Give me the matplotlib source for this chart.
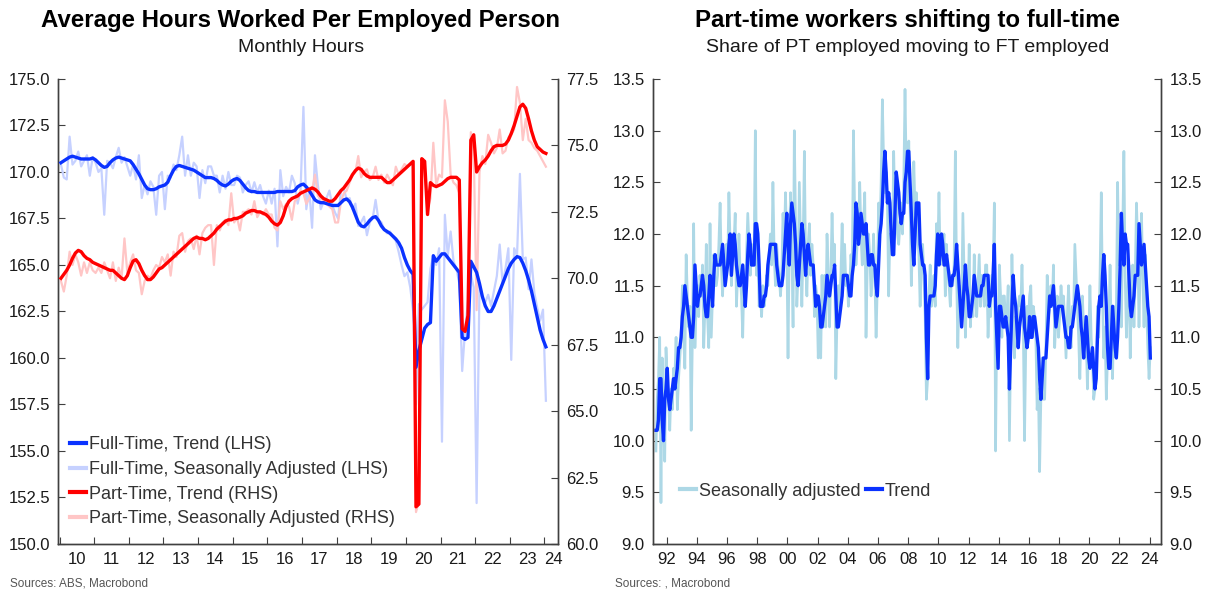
import numpy as np
import matplotlib.pyplot as plt
from matplotlib.lines import Line2D

plt.rcParams['font.family'] = ['Liberation Sans', 'DejaVu Sans']

# ---- left chart: monthly hours, Jan 2010 .. Jan 2024 ----
hours_start = (2010, 1)

ft_trend = [
    170.5, 170.6, 170.7, 170.8, 170.85, 170.8, 170.75, 170.7, 170.7, 170.7, 170.7, 170.75,
    170.65, 170.5, 170.35, 170.25, 170.3, 170.5, 170.65, 170.75, 170.8, 170.75, 170.7, 170.65,
    170.6, 170.4, 170.15, 169.9, 169.6, 169.3, 169.1, 169.05, 169.05, 169.1, 169.2, 169.25,
    169.3, 169.45, 169.8, 170.1, 170.3, 170.35, 170.3, 170.25, 170.2, 170.15, 170.1, 170.0,
    169.9, 169.8, 169.7, 169.7, 169.7, 169.65, 169.55, 169.4, 169.3, 169.25, 169.35, 169.5,
    169.6, 169.65, 169.55, 169.35, 169.15, 169.0, 168.95, 168.95, 168.9, 168.9, 168.9, 168.9,
    168.9, 168.9, 168.9, 168.95, 168.95, 168.95, 168.95, 168.95, 168.95, 169.0, 169.2, 169.3,
    169.35, 169.2, 169.0, 168.75, 168.5, 168.4, 168.35, 168.35, 168.3, 168.25, 168.2, 168.2,
    168.2, 168.35, 168.5, 168.55, 168.4, 168.1, 167.7, 167.3, 167.1, 167.05, 167.2, 167.4,
    167.55, 167.6, 167.4, 167.1, 166.9, 166.8, 166.7, 166.55, 166.4, 166.2, 165.9, 165.4,
    165.0, 164.7, 164.5, 159.5, 160.4, 161.0, 161.6, 161.8, 161.9, 165.5, 165.2, 165.4,
    165.6, 165.6, 165.4, 165.2, 165.0, 164.8, 164.6, 161.1, 161.0, 161.1, 165.2, 164.9,
    164.6, 164.0, 163.3, 162.8, 162.5, 162.5, 162.8, 163.2, 163.6, 164.0, 164.4, 164.8,
    165.1, 165.3, 165.45, 165.4, 165.1, 164.7, 164.2, 163.6, 162.9, 162.2, 161.5, 161.0,
    160.6,
]

ft_sa = [
    170.4, 169.7, 169.6, 171.9, 170.4, 170.6, 171.1, 170.3, 170.6, 170.9, 169.8, 170.8,
    170.5, 170.0, 170.2, 167.7, 170.6, 170.5, 170.2, 170.8, 171.3, 170.5, 170.8, 170.3,
    169.8, 170.4, 169.6, 170.9, 168.6, 169.3, 168.8, 169.5, 169.2, 167.7, 169.8, 170.0,
    168.0, 169.8, 169.7, 170.4, 170.1, 170.9, 171.9, 169.8, 170.9, 169.8, 170.5, 170.3,
    168.6, 170.1, 169.4, 170.3, 170.3, 169.8, 169.8, 168.9, 169.8, 169.1, 170.0, 169.3,
    169.3, 169.8, 169.7, 168.9, 169.3, 169.5, 168.9, 169.45, 168.9, 169.3, 168.7, 168.3,
    169.0, 168.3, 169.1, 166.0, 170.1, 168.7, 169.2, 168.9, 169.8, 169.4, 168.3, 169.0,
    173.5, 168.0, 169.1, 167.0, 170.9, 169.3, 168.0, 168.4, 168.6, 169.0, 168.2, 167.8,
    167.5, 169.0, 169.1, 168.5, 168.6, 168.0, 168.3, 167.1, 167.3, 167.6, 166.6, 167.3,
    167.5, 168.5, 167.4, 167.3, 166.9, 166.7, 166.8, 166.5, 166.3, 165.7, 165.0, 164.4,
    164.6, 163.8, 162.5, 157.5, 162.9, 162.6, 162.8, 163.0, 164.8, 165.5, 165.0, 165.9,
    155.5, 167.7, 165.5, 166.8, 165.2, 164.8, 164.0, 159.3, 161.5, 163.0, 164.5, 163.8,
    152.2, 164.0, 163.2, 163.0, 163.4, 162.8, 163.6, 164.4, 166.1, 164.0, 164.8, 165.9,
    159.9, 165.9, 165.5, 169.9, 165.3, 165.4, 163.7, 165.3, 163.5, 162.7, 162.0, 162.6,
    157.7,
]

pt_trend = [
    70.0, 70.15, 70.3, 70.5, 70.75, 70.95, 71.05, 71.0, 70.85, 70.75, 70.7, 70.6,
    70.55, 70.5, 70.45, 70.4, 70.35, 70.3, 70.3, 70.2, 70.1, 70.0, 69.95, 70.1,
    70.4, 70.65, 70.7, 70.55, 70.3, 70.1, 69.95, 69.95, 70.05, 70.2, 70.35, 70.4,
    70.5, 70.6, 70.7, 70.8, 70.9, 71.0, 71.1, 71.2, 71.3, 71.4, 71.5, 71.55,
    71.5, 71.5, 71.45, 71.5, 71.6, 71.7, 71.85, 71.95, 72.05, 72.15, 72.2, 72.2,
    72.25, 72.25, 72.3, 72.35, 72.45, 72.5, 72.55, 72.55, 72.5, 72.5, 72.45, 72.4,
    72.3, 72.15, 72.05, 72.0, 72.1, 72.35, 72.7, 72.9, 73.0, 73.05, 73.1, 73.2,
    73.25, 73.3, 73.35, 73.4, 73.35, 73.25, 73.1, 73.0, 72.95, 72.9, 72.9, 73.0,
    73.15, 73.3, 73.4, 73.55, 73.7, 73.9, 74.05, 74.15, 74.1, 73.95, 73.85, 73.8,
    73.8, 73.8, 73.8, 73.8, 73.7, 73.6, 73.6, 73.7, 73.8, 73.9, 74.0, 74.1,
    74.2, 74.3, 74.4, 61.4, 61.5, 74.5, 74.4, 72.4, 73.6, 73.5, 73.45, 73.5,
    73.55, 73.65, 73.75, 73.8, 73.8, 73.8, 73.7, 68.1, 68.0, 68.6, 75.2, 75.4,
    74.0, 74.2, 74.35, 74.45, 74.6, 74.8, 74.95, 75.0, 75.0, 75.0, 75.05, 75.2,
    75.45, 75.75, 76.1, 76.45, 76.55, 76.4, 76.0, 75.55, 75.2, 74.95, 74.85, 74.75,
    74.7,
]

pt_sa = [
    69.9, 69.5, 70.1, 71.0, 70.5, 70.9, 70.6, 70.1, 70.6, 70.2, 70.6, 70.3,
    70.2, 70.4, 70.2, 70.6, 70.3, 70.0, 70.6, 69.9, 70.4, 70.0, 71.5, 70.2,
    70.6, 70.9, 70.3, 70.2, 69.4, 69.9, 70.1, 70.0, 70.3, 70.5, 70.4, 70.8,
    70.6, 70.9, 70.1, 71.0, 70.8, 71.6, 71.7, 71.0, 71.4, 71.5, 71.1, 71.6,
    70.9, 71.7, 71.9, 72.0, 72.0, 70.5, 72.0, 71.8, 72.1, 72.2, 72.0, 73.2,
    72.1, 72.3, 71.8, 72.5, 72.5, 72.6, 72.4, 72.9, 72.3, 72.5, 72.4, 72.6,
    72.4, 72.4, 71.9, 71.8, 72.9, 72.6, 72.8, 72.7, 72.2, 72.9, 73.0, 73.3,
    73.2, 72.8, 73.0, 73.3, 73.9, 73.1, 73.0, 72.9, 72.8, 72.7, 72.6, 72.1,
    72.1, 72.9, 73.2, 73.3, 73.6, 73.9, 74.0, 74.6, 73.8, 74.0, 74.1, 73.7,
    73.8, 74.2, 73.7, 73.9, 73.6, 73.9, 73.7, 73.5, 74.2, 73.9, 74.1, 74.3,
    74.2, 74.3, 74.4, 61.2, 61.6, 74.4, 74.0, 72.6, 73.0, 75.1, 73.5, 73.9,
    73.8, 76.7, 75.9, 73.9, 73.6, 73.5, 73.2, 68.0, 68.2, 68.5, 75.5, 74.8,
    68.8, 74.0, 74.6, 74.3, 75.4, 75.1, 74.7, 74.9, 75.6, 74.7, 74.8, 75.3,
    75.4, 75.6, 77.2, 76.6, 75.2, 76.0, 75.2, 75.1, 74.9, 74.8, 74.6, 74.4,
    74.2,
]

# ---- right chart: share of PT moving to FT, Apr 1991 .. Jan 2024 ----
shift_start = (1991, 4)

shift_sa = [
    9.9, 10.4, 10.6, 11.0, 9.4, 10.8, 10.2, 9.8, 10.9,
    10.6, 10.4, 10.1, 10.5, 10.3, 10.7, 10.6, 11.0, 10.3, 10.6, 10.8, 11.0,
    11.5, 11.0, 10.7, 11.8, 11.4, 11.1, 11.3, 10.1, 11.0, 12.1, 10.9, 11.3,
    11.5, 11.2, 11.6, 11.4, 11.7, 10.9, 11.3, 11.9, 11.2, 10.9, 12.1, 11.0,
    11.4, 11.8, 11.5, 11.5, 11.6, 11.9, 12.3, 11.7, 11.4, 11.8, 11.6, 11.9,
    11.7, 12.4, 11.9, 11.5, 11.8, 11.9, 12.2, 11.3, 11.6, 12.0, 11.6, 11.4,
    11.0, 11.6, 11.4, 11.8, 12.2, 11.9, 11.6, 11.9, 11.7, 11.8, 13.0, 11.6,
    11.9, 11.3, 11.4, 11.2, 11.5, 11.3, 11.4, 11.6, 11.5, 11.8, 12.0, 11.7,
    12.5, 11.8, 11.5, 11.9, 11.7, 11.6, 11.4, 11.6, 12.2, 11.9, 12.4, 11.9,
    10.8, 11.9, 12.4, 11.9, 11.1, 13.0, 12.1, 11.3, 11.6, 12.5, 11.9, 11.3,
    11.9, 12.8, 11.7, 11.4, 11.9, 12.1, 11.6, 11.9, 11.7, 11.2, 11.5, 11.4,
    10.8, 11.3, 10.8, 11.6, 11.1, 11.6, 11.1, 12.0, 11.6, 11.1, 11.6, 12.2,
    11.7, 11.9, 10.6, 11.2, 11.5, 11.3, 11.6, 12.1, 11.6, 11.9, 11.5, 11.6,
    11.3, 11.5, 11.8, 11.6, 13.0, 12.2, 11.7, 11.9, 12.0, 12.5, 12.0, 11.7,
    12.1, 12.4, 11.0, 11.7, 12.0, 11.8, 11.4, 11.6, 12.0, 11.6, 11.0, 11.5,
    12.3, 12.0, 12.5, 13.3, 12.7, 12.4, 12.6, 12.3, 11.4, 12.0, 11.8, 11.9,
    12.8, 12.2, 12.4, 12.0, 11.9, 12.1, 12.3, 12.0, 12.5, 13.4, 12.6, 12.3,
    12.9, 12.3, 11.5, 11.9, 12.7, 12.2, 12.4, 12.0, 11.8, 11.3, 11.7, 11.9,
    11.6, 11.2, 10.4, 10.6, 11.4, 11.7, 11.3, 11.4, 11.6, 11.3, 12.1, 11.8,
    12.4, 11.7, 12.0, 11.8, 12.0, 11.4, 11.9, 11.6, 11.5, 11.3, 11.6, 11.5,
    11.7, 12.8, 11.6, 10.9, 11.5, 11.2, 11.3, 12.2, 11.6, 11.0, 11.5, 11.3,
    11.9, 11.1, 11.4, 11.2, 11.8, 11.4, 11.2, 11.5, 11.8, 11.3, 11.6, 11.5,
    11.3, 11.7, 11.7, 11.0, 11.4, 11.2, 11.6, 11.6, 12.3, 9.9, 11.2, 10.9,
    11.7, 11.4, 11.0, 11.4, 11.4, 11.1, 11.2, 11.5, 10.0, 10.9, 11.8, 11.2,
    10.8, 11.2, 11.0, 11.3, 11.4, 11.3, 11.7, 11.1, 10.0, 10.9, 11.3, 11.1,
    11.4, 11.5, 11.0, 11.3, 11.2, 11.0, 10.3, 10.5, 9.7, 10.4, 10.8, 10.4,
    10.4, 10.9, 11.6, 11.2, 11.3, 11.5, 11.3, 11.7, 10.9, 11.2, 11.4, 11.0,
    11.2, 11.5, 11.3, 11.4, 11.1, 10.8, 11.2, 11.5, 11.1, 10.9, 11.3, 11.2,
    11.9, 11.6, 11.3, 11.0, 10.6, 11.1, 11.4, 11.1, 10.8, 11.0, 10.5, 11.0,
    11.5, 11.0, 10.8, 10.4, 10.5, 10.7, 11.3, 11.0, 11.6, 12.4, 11.4, 10.8,
    11.1, 10.4, 10.8, 11.1, 11.7, 11.0, 10.6, 11.3, 11.0, 11.3, 12.5, 11.7,
    11.9, 11.1, 12.0, 12.8, 11.6, 11.0, 11.4, 11.7, 10.8, 11.4, 11.7, 11.1,
    11.6, 12.3, 11.9, 11.1, 11.7, 12.2, 11.6, 11.1, 11.8, 11.3, 10.9, 10.6,
    10.9,
]

shift_trend = [
    10.1, 10.1, 10.2, 10.6, 10.6, 10.2, 10.0, 10.4, 10.5,
    10.7, 10.4, 10.3, 10.4, 10.5, 10.6, 10.5, 10.6, 10.7, 10.9, 10.9, 11.0,
    11.2, 11.3, 11.5, 11.4, 11.3, 11.2, 11.1, 11.0, 11.0, 11.2, 11.7, 11.5,
    11.3, 11.4, 11.4, 11.5, 11.6, 11.5, 11.3, 11.2, 11.2, 11.4, 11.6, 11.5,
    11.3, 11.6, 11.8, 11.7, 11.7, 11.7, 11.7, 11.8, 11.9, 11.7, 11.5, 11.6,
    11.7, 11.9, 12.0, 11.6, 11.8, 12.0, 11.9, 11.7, 11.6, 11.5, 11.5, 11.6,
    11.7, 11.5, 11.3, 11.5, 11.8, 12.0, 11.9, 11.7, 11.7, 11.7, 12.1, 12.1,
    12.0, 11.7, 11.3, 11.3, 11.3, 11.4, 11.4, 11.5, 11.7, 11.8, 11.9, 11.9,
    11.9, 11.9, 11.9, 11.7, 11.6, 11.5, 11.5, 11.5, 11.6, 11.8, 12.0, 12.2,
    11.9, 11.7, 12.1, 12.3, 12.2, 12.1, 11.9, 11.6, 11.5, 11.7, 11.9, 12.1,
    12.0, 11.8, 11.6, 11.8, 11.9, 11.8, 11.7, 11.7, 11.7, 11.5, 11.3, 11.4,
    11.4, 11.3, 11.1, 11.1, 11.2, 11.3, 11.4, 11.6, 11.5, 11.4, 11.5, 11.6,
    11.6, 11.7, 11.4, 11.1, 11.1, 11.2, 11.3, 11.4, 11.6, 11.6, 11.6, 11.6,
    11.5, 11.4, 11.4, 11.6, 11.7, 11.9, 12.3, 12.2, 11.9, 12.0, 12.2, 12.1,
    12.0, 12.0, 12.1, 11.9, 11.7, 11.7, 11.8, 11.8, 11.7, 11.7, 11.5, 11.4,
    11.7, 12.0, 12.1, 12.3, 12.6, 12.8, 12.6, 12.3, 12.4, 12.3, 12.0, 11.8,
    11.8, 12.2, 12.6, 12.5, 12.4, 12.2, 12.1, 12.2, 12.2, 12.5, 12.6, 12.8,
    12.8, 12.5, 12.2, 11.9, 11.7, 12.0, 12.3, 12.3, 12.3, 11.9, 11.8, 11.7,
    11.7, 11.6, 11.0, 10.6, 11.3, 11.4, 11.4, 11.4, 11.4, 11.5, 11.8, 12.0,
    11.7, 11.8, 12.0, 11.9, 11.7, 11.7, 11.8, 11.7, 11.6, 11.5, 11.5, 11.6,
    11.6, 11.7, 11.9, 11.7, 11.5, 11.3, 11.1, 11.3, 11.5, 11.7, 11.5, 11.4,
    11.2, 11.2, 11.3, 11.4, 11.6, 11.5, 11.4, 11.4, 11.4, 11.4, 11.5, 11.5,
    11.6, 11.6, 11.6, 11.6, 11.3, 11.4, 11.4, 11.6, 11.9, 11.3, 11.0, 10.7,
    11.3, 11.3, 11.2, 11.1, 11.1, 11.2, 11.1, 11.0, 10.5, 10.9, 11.3, 11.6,
    11.4, 11.3, 11.1, 10.9, 11.1, 11.2, 11.3, 11.4, 11.1, 11.0, 10.9, 11.0,
    11.2, 11.0, 11.0, 11.2, 11.2, 11.1, 11.0, 10.9, 10.6, 10.4, 10.6, 10.8,
    10.8, 10.8, 11.0, 11.2, 11.4, 11.3, 11.4, 11.5, 11.3, 11.1, 11.2, 11.3,
    11.3, 11.3, 11.3, 11.2, 11.1, 11.0, 11.0, 10.9, 10.9, 11.1, 11.1, 11.2,
    11.3, 11.4, 11.5, 11.4, 11.3, 11.1, 11.0, 10.8, 11.0, 11.2, 11.0, 10.8,
    10.7, 10.8, 10.9, 10.7, 10.5, 10.6, 11.0, 11.3, 11.4, 11.3, 11.6, 11.8,
    11.6, 11.3, 10.9, 10.7, 10.7, 11.0, 11.3, 11.1, 10.9, 10.8, 11.0, 11.3,
    11.7, 12.2, 11.9, 11.7, 12.0, 11.9, 11.9, 11.6, 11.3, 11.2, 11.3, 11.4,
    11.6, 11.6, 11.6, 12.1, 11.9, 11.7, 11.8, 11.9, 11.7, 11.5, 11.3, 11.2,
    10.8,
]

hours_labels = ['10', '11', '12', '13', '14', '15', '16', '17', '18', '19',
                '20', '21', '22', '23', '24']
shift_years = list(range(1992, 2025, 2))

BLUE = '#0a32ff'
RED = '#ff0000'
FT_SA_COL = '#c6d1ff'
PT_SA_COL = '#ffc6c6'
SA_COL = '#add8e6'
TXT = '#1a1a1a'
LEG_TXT = '#333333'
SPINE = '#404040'


def month_x(start, n):
    # decimal year at the middle of each month
    y, m = start
    return y + (m - 1 + np.arange(n) + 0.5) / 12.0


fig = plt.figure(figsize=(12.08, 5.90), dpi=100)

# ---------------- left panel ----------------
xl = month_x(hours_start, len(ft_trend))

ax = fig.add_axes([0.0484, 0.0780, 0.4132, 0.7881])
ax.set_xlim(2009.97, 2024.38)
ax.set_ylim(150, 175)
ax.plot(xl, ft_sa, color=FT_SA_COL, lw=1.6, solid_joinstyle='round')

axr = ax.twinx()
axr.set_ylim(60, 77.5)
axr.plot(xl, pt_sa, color=PT_SA_COL, lw=1.6, solid_joinstyle='round')

axt = ax.twinx()
axt.set_ylim(150, 175)
axt.plot(xl, ft_trend, color=BLUE, lw=2.4, solid_joinstyle='round')
axt.axis('off')

axrt = ax.twinx()
axrt.set_ylim(60, 77.5)
axrt.plot(xl, pt_trend, color=RED, lw=2.4, solid_joinstyle='round')
axrt.axis('off')

ax.set_yticks(np.arange(150, 175.1, 2.5))
ax.set_yticklabels(['%.1f' % v for v in np.arange(150, 175.1, 2.5)])
axr.set_yticks(np.arange(60, 77.6, 2.5))
axr.set_yticklabels(['%.1f' % v for v in np.arange(60, 77.6, 2.5)])

ax.set_xticks(np.arange(2010, 2025))
ax.set_xticklabels([])
ax.set_xticks(list(np.arange(2010.5, 2024, 1.0)) + [2024.25], minor=True)
ax.set_xticklabels(hours_labels, minor=True)

for a in (ax, axr):
    a.spines['top'].set_visible(False)
    for s in a.spines.values():
        s.set_color(SPINE)
        s.set_linewidth(1.0)
ax.tick_params(axis='y', direction='in', length=5, color=SPINE, labelsize=12,
               labelcolor=TXT, pad=6)
axr.tick_params(axis='y', direction='in', length=5, color=SPINE, labelsize=12,
                labelcolor=TXT, pad=6)
ax.tick_params(axis='x', which='major', direction='in', length=5, color=SPINE)
ax.tick_params(axis='x', which='minor', length=0, labelsize=12, labelcolor=TXT, pad=6)

handles = [
    Line2D([], [], color=BLUE, lw=3),
    Line2D([], [], color=FT_SA_COL, lw=3),
    Line2D([], [], color=RED, lw=3),
    Line2D([], [], color=PT_SA_COL, lw=3),
]
labels = ['Full-Time, Trend (LHS)', 'Full-Time, Seasonally Adjusted (LHS)',
          'Part-Time, Trend (RHS)', 'Part-Time, Seasonally Adjusted (RHS)']
leg = axrt.legend(handles, labels, loc='lower left', bbox_to_anchor=(0.008, 0.02),
                  frameon=False, fontsize=13, handlelength=0.9, handletextpad=0.15,
                  labelspacing=0.43, borderaxespad=0.0)
for t in leg.get_texts():
    t.set_color(LEG_TXT)

fig.text(0.249, 0.966, 'Average Hours Worked Per Employed Person', ha='center',
         va='center', fontsize=17.3, fontweight='bold', color='#000000')
fig.text(0.249, 0.920, 'Monthly Hours', ha='center', va='center', fontsize=14,
         color=TXT)
fig.text(0.008, 0.011, 'Sources: ABS, Macrobond', ha='left', va='center',
         fontsize=8.5, color='#555555')

# ---------------- right panel ----------------
xr = month_x(shift_start, len(shift_sa))

bx = fig.add_axes([0.5406, 0.0780, 0.4205, 0.7881])
bx.set_xlim(1991.1, 2024.75)
bx.set_ylim(9.0, 13.5)
bx.plot(xr, shift_sa, color=SA_COL, lw=1.9, label='Seasonally adjusted')
bx.plot(xr, shift_trend, color=BLUE, lw=2.4, label='Trend')

bxr = bx.twinx()
bxr.set_ylim(9.0, 13.5)

yt = np.arange(9.0, 13.51, 0.5)
bx.set_yticks(yt)
bx.set_yticklabels(['%.1f' % v for v in yt])
bxr.set_yticks(yt)
bxr.set_yticklabels(['%.1f' % v for v in yt])
bx.set_xticks(shift_years)
bx.set_xticklabels(['%02d' % (y % 100) for y in shift_years])

for a in (bx, bxr):
    a.spines['top'].set_visible(False)
    for s in a.spines.values():
        s.set_color(SPINE)
        s.set_linewidth(1.0)
bx.tick_params(axis='y', direction='in', length=5, color=SPINE, labelsize=12,
               labelcolor=TXT, pad=6)
bxr.tick_params(axis='y', direction='in', length=5, color=SPINE, labelsize=12,
                labelcolor=TXT, pad=6)
bx.tick_params(axis='x', direction='in', length=5, color=SPINE, labelsize=12,
               labelcolor=TXT, pad=6)

leg2 = bx.legend(handles=[Line2D([], [], color=SA_COL, lw=3),
                          Line2D([], [], color=BLUE, lw=3)],
                 labels=['Seasonally adjusted', 'Trend'], loc='lower left',
                 bbox_to_anchor=(0.038, 0.08), ncol=2, frameon=False, fontsize=13,
                 handlelength=0.9, handletextpad=0.15, columnspacing=0.3,
                 borderaxespad=0.0)
for t in leg2.get_texts():
    t.set_color(LEG_TXT)

fig.text(0.751, 0.966, 'Part-time workers shifting to full-time', ha='center',
         va='center', fontsize=17.3, fontweight='bold', color='#000000')
fig.text(0.751, 0.920, 'Share of PT employed moving to FT employed', ha='center',
         va='center', fontsize=14, color=TXT)
fig.text(0.509, 0.011, 'Sources: , Macrobond', ha='left', va='center',
         fontsize=8.5, color='#555555')

fig.savefig('out.png', dpi=100)
